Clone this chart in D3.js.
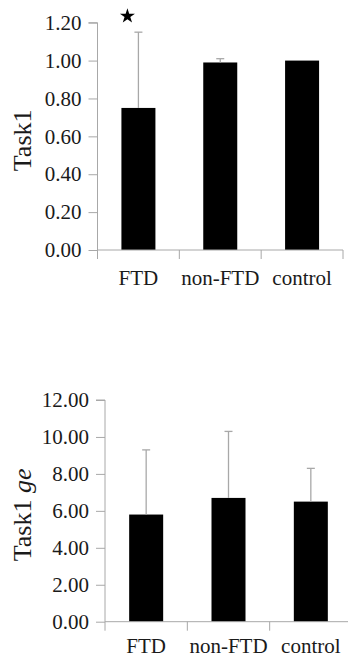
<!DOCTYPE html>
<html>
<head>
<meta charset="utf-8">
<script src="https://cdn.jsdelivr.net/npm/d3@7"></script>
<style>
  body { margin: 0; background: #fff; }
  text { font-family: "Liberation Serif", "Times New Roman", serif; fill: #1a1a1a; }
</style>
</head>
<body>
<div id="chart"></div>
<script>
const categories = ["FTD", "non-FTD", "control"];

// panel 1: Task1
const task1Mean = [0.75, 0.99, 1.00];
const task1ErrTop = [1.15, 1.01, 1.00];
const task1Ticks = [0, 0.2, 0.4, 0.6, 0.8, 1.0, 1.2];
const task1Stars = ["FTD"];

// panel 2: Task1 ge
const geMean = [5.8, 6.7, 6.5];
const geErrTop = [9.3, 10.3, 8.3];
const geTicks = [0, 2, 4, 6, 8, 10, 12];

const W = 348, H = 657;
const gray = "#a8a8a8";

const svg = d3.select("#chart").append("svg")
  .attr("width", W).attr("height", H);

function panel(opts) {
  const y = d3.scaleLinear().domain(opts.domain).range([opts.bottom, opts.top]);
  const x = d3.scaleBand().domain(categories).range([opts.left, opts.right]);
  const g = svg.append("g");

  // bars
  const bw = 34;
  g.selectAll("rect.bar").data(opts.mean).enter().append("rect")
    .attr("x", (d, i) => x(categories[i]) + x.bandwidth() / 2 - bw / 2)
    .attr("y", d => y(d))
    .attr("width", bw)
    .attr("height", d => y(0) - y(d))
    .attr("fill", "#000");

  // error bars (upper only)
  const err = g.selectAll("g.err").data(opts.errTop).enter().append("g")
    .filter((d, i) => d > opts.mean[i]);
  err.append("line")
    .attr("x1", (d, i) => x(categories[opts.errTop.indexOf(d)]) + x.bandwidth() / 2)
    .attr("x2", (d, i) => x(categories[opts.errTop.indexOf(d)]) + x.bandwidth() / 2)
    .attr("y1", (d) => y(opts.mean[opts.errTop.indexOf(d)]))
    .attr("y2", d => y(d))
    .attr("stroke", gray).attr("stroke-width", 1.3);
  err.append("line")
    .attr("x1", d => x(categories[opts.errTop.indexOf(d)]) + x.bandwidth() / 2 - 4)
    .attr("x2", d => x(categories[opts.errTop.indexOf(d)]) + x.bandwidth() / 2 + 4)
    .attr("y1", d => y(d)).attr("y2", d => y(d))
    .attr("stroke", gray).attr("stroke-width", 1.3);

  // y axis
  const yAxis = d3.axisLeft(y).tickValues(opts.ticks).tickSize(9).tickPadding(7)
    .tickFormat(d3.format(".2f"));
  const ya = g.append("g").attr("transform", `translate(${opts.left},0)`).call(yAxis);
  ya.select(".domain").attr("stroke", gray).attr("d", `M-9,${opts.top}H0V${opts.bottom + 9}`);
  ya.selectAll(".tick line").attr("stroke", gray);
  ya.selectAll(".tick text").attr("font-size", 21).attr("font-family", "Liberation Serif").attr("fill", "#1a1a1a");

  // x axis: line with ticks at band boundaries
  const xa = g.append("g");
  xa.append("line").attr("x1", opts.left).attr("x2", opts.right)
    .attr("y1", y(0)).attr("y2", y(0)).attr("stroke", gray);
  xa.selectAll("line.sep").data(categories).enter().append("line")
    .attr("x1", d => x(d) + x.bandwidth()).attr("x2", d => x(d) + x.bandwidth())
    .attr("y1", y(0)).attr("y2", y(0) + 9).attr("stroke", gray);
  xa.selectAll("text").data(categories).enter().append("text")
    .attr("x", d => x(d) + x.bandwidth() / 2)
    .attr("y", y(0) + opts.labelDy)
    .attr("text-anchor", "middle").attr("font-size", 21)
    .text(d => d);

  // y title
  const t = g.append("text")
    .attr("transform", `translate(31,${(opts.top + opts.bottom) / 2 + 4}) rotate(-90)`)
    .attr("text-anchor", "middle").attr("font-size", 26);
  t.append("tspan").text(opts.title[0]);
  if (opts.title[1]) t.append("tspan").attr("font-style", "italic").text(" " + opts.title[1]);

  // significance stars
  if (opts.stars) {
    g.selectAll("path.star").data(opts.stars).enter().append("path")
      .attr("d", d3.symbol(d3.symbolStar, 70))
      .attr("transform", d => {
        const i = categories.indexOf(d);
        return `translate(${x(d) + x.bandwidth() / 2 - 11},${y(opts.errTop[i]) - 16})`;
      })
      .attr("fill", "#000");
  }
}

panel({ domain: [0, 1.2], top: 22.7, bottom: 250, left: 97.5, right: 343,
  mean: task1Mean, errTop: task1ErrTop, ticks: task1Ticks, stars: task1Stars,
  title: ["Task1"], labelDy: 35 });

panel({ domain: [0, 12], top: 400, bottom: 621.7, left: 105, right: 352,
  mean: geMean, errTop: geErrTop, ticks: geTicks,
  title: ["Task1", "ge"], labelDy: 31 });
</script>
</body>
</html>
